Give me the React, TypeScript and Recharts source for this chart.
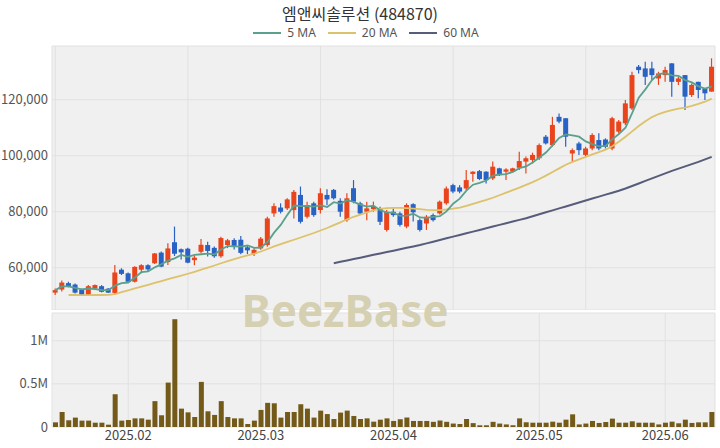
import { ComposedChart, Bar, Line, XAxis, YAxis, CartesianGrid } from 'recharts';

// trading days shown on the chart
const dates = [
  '2025-01-13', '2025-01-14', '2025-01-15', '2025-01-16', '2025-01-17', '2025-01-20', '2025-01-21', '2025-01-22', '2025-01-23', '2025-01-24', '2025-01-31',
  '2025-02-03', '2025-02-04', '2025-02-05', '2025-02-06', '2025-02-07', '2025-02-10', '2025-02-11', '2025-02-12', '2025-02-13', '2025-02-14',
  '2025-02-17', '2025-02-18', '2025-02-19', '2025-02-20', '2025-02-21', '2025-02-24', '2025-02-25', '2025-02-26', '2025-02-27', '2025-02-28',
  '2025-03-04', '2025-03-05', '2025-03-06', '2025-03-07', '2025-03-10', '2025-03-11', '2025-03-12', '2025-03-13', '2025-03-14', '2025-03-17',
  '2025-03-18', '2025-03-19', '2025-03-20', '2025-03-21', '2025-03-24', '2025-03-25', '2025-03-26', '2025-03-27', '2025-03-28', '2025-03-31',
  '2025-04-01', '2025-04-02', '2025-04-03', '2025-04-04', '2025-04-07', '2025-04-08', '2025-04-09', '2025-04-10', '2025-04-11', '2025-04-14',
  '2025-04-15', '2025-04-16', '2025-04-17', '2025-04-18', '2025-04-21', '2025-04-22', '2025-04-23', '2025-04-24', '2025-04-25', '2025-04-28',
  '2025-04-29', '2025-04-30',
  '2025-05-02', '2025-05-07', '2025-05-08', '2025-05-09', '2025-05-12', '2025-05-13', '2025-05-14', '2025-05-15', '2025-05-16', '2025-05-19',
  '2025-05-20', '2025-05-21', '2025-05-22', '2025-05-23', '2025-05-26', '2025-05-27', '2025-05-28', '2025-05-29', '2025-05-30',
  '2025-06-02', '2025-06-04', '2025-06-05', '2025-06-09', '2025-06-10', '2025-06-11', '2025-06-12', '2025-06-13',
];

const opens = [
  51100, 52200, 54500, 54000, 52200, 50300, 52600, 53400, 52500, 51000,
  59300, 58000, 55000, 59300, 60900, 61600, 65400, 62000, 69100, 66600,
  66800, 62700, 65700, 68100, 67100, 64100, 68100, 69900, 70000, 67300,
  64900, 66900, 68100, 79400, 81500, 81200, 80600, 86000, 78200, 83000,
  80600, 86000, 87800, 83900, 77000, 88400, 83000, 80000, 80900, 81200,
  73500, 80000, 79400, 74700, 82700, 77000, 75800, 78800, 79400, 83000,
  89500, 88700, 88300, 93500, 94500, 94300, 91900, 95500, 94300, 94300,
  95700, 97900, 98500, 99100, 106800, 103800, 113900, 113400, 100800, 104400,
  100300, 102600, 105600, 105800, 102600, 108600, 111600, 116900, 131800, 131200,
  131200, 127600, 128800, 133000, 126400, 128800, 121700, 126400, 124100, 122900,
];

const highs = [
  52600, 55400, 55000, 54400, 52600, 53800, 54000, 53800, 52800, 61000,
  59800, 58300, 60500, 61200, 61200, 65300, 65800, 68700, 74700, 66900,
  67100, 64400, 70300, 69300, 67600, 71100, 70300, 70500, 71300, 68000,
  67000, 71000, 78200, 83000, 83000, 84800, 87800, 89000, 83600, 83600,
  88400, 88000, 88100, 84800, 86600, 91300, 83600, 83600, 83600, 81800,
  80600, 81200, 80000, 83000, 83000, 77600, 78800, 79400, 84000, 89000,
  90000, 89500, 94900, 94500, 94900, 94500, 97900, 95700, 95500, 95700,
  101400, 99700, 101100, 104400, 107400, 113900, 115100, 113400, 102600, 105000,
  103200, 108000, 108000, 106200, 113900, 112800, 119900, 130000, 132400, 133600,
  133600, 130000, 131800, 133000, 128200, 128800, 125800, 126400, 124100, 134800,
];

const lows = [
  50300, 51500, 53000, 50800, 50000, 50000, 52300, 51200, 51000, 50400,
  57400, 54500, 54700, 58000, 58700, 61300, 60200, 61000, 64200, 62900,
  61600, 60900, 65200, 64000, 63600, 63600, 67000, 66500, 64800, 64900,
  64200, 66400, 67500, 78200, 79400, 80600, 77600, 75800, 77600, 78200,
  79400, 82400, 84400, 78200, 76400, 83000, 78800, 77000, 80000, 75300,
  72900, 78200, 74700, 74100, 76500, 72900, 73500, 76500, 79000, 82500,
  86600, 86600, 87800, 90700, 91300, 90100, 91300, 92800, 91300, 94000,
  94900, 93700, 97300, 98500, 104000, 103200, 111600, 103200, 97900, 100300,
  99700, 102000, 102000, 102600, 102000, 108000, 111000, 116300, 129400, 125300,
  127000, 125300, 126400, 121100, 125300, 116300, 121000, 120500, 119900, 122900,
];

const closes = [
  52000, 54700, 53400, 51100, 50300, 53400, 53800, 51400, 51100, 58300,
  57800, 55000, 60300, 60900, 59400, 65100, 60400, 66900, 65000, 65500,
  61800, 63600, 68200, 66000, 64100, 70600, 69800, 67800, 65300, 66200,
  66400, 70400, 77600, 82000, 80000, 84400, 87100, 76400, 82400, 78800,
  86600, 84400, 84800, 80000, 84800, 83600, 79400, 81200, 82000, 76400,
  80000, 78800, 75300, 82400, 79800, 73500, 78200, 77000, 83600, 88300,
  87200, 87200, 91300, 94300, 91700, 91300, 96100, 93100, 95100, 95500,
  98100, 99100, 100300, 103800, 104400, 111000, 112200, 106800, 102000, 102000,
  102600, 107400, 102600, 103200, 113400, 112200, 118700, 128800, 130600, 128200,
  128800, 129400, 130600, 126400, 127600, 121100, 125300, 123500, 122300, 131800,
];

const volumes = [
  54000, 174000, 78000, 109000, 74000, 74000, 50000, 50000, 27000, 380000,
  74000, 81000, 100000, 100000, 85000, 300000, 136000, 515000, 1250000, 213000,
  170000, 116000, 523000, 182000, 140000, 300000, 116000, 100000, 100000, 35000,
  74000, 198000, 280000, 275000, 109000, 174000, 174000, 264000, 213000, 109000,
  190000, 150000, 93000, 167000, 190000, 128000, 93000, 100000, 62000, 85000,
  100000, 70000, 90000, 110000, 70000, 70000, 70000, 60000, 75000, 60000,
  40000, 35000, 93000, 45000, 20000, 20000, 60000, 40000, 30000, 20000,
  100000, 55000, 50000, 50000, 50000, 62000, 50000, 85000, 147000, 30000,
  40000, 70000, 47000, 58000, 97000, 50000, 50000, 66000, 50000, 50000,
  50000, 30000, 50000, 62000, 43000, 85000, 47000, 54000, 54000, 174000,
];

// 20-day average as drawn (starts on the 3rd day shown)
const ma20 = [
  null, null, 50250, 50250, 50200, 50200, 50250, 50250, 50300, 50600,
  51250, 51900, 52600, 53250, 53900, 54550, 55200, 55900, 56550, 57200,
  57850, 58550, 59300, 60050, 60800, 61600, 62350, 63100, 63800, 64400,
  65000, 65800, 66700, 67600, 68400, 69200, 70000, 70800, 71600, 72400,
  73300, 74200, 75200, 76200, 77300, 78200, 79000, 79800, 80500, 81000,
  81300, 81400, 81400, 81300, 81100, 80900, 80700, 80600, 80600, 80800,
  81100, 81500, 82100, 82800, 83500, 84200, 85000, 85900, 86800, 87700,
  88600, 89600, 90600, 91700, 92900, 94200, 95500, 96800, 97800, 98700,
  99600, 100500, 101300, 102200, 103400, 105000, 106800, 108700, 110600, 112300,
  113800, 114900, 115700, 116300, 116800, 117200, 117800, 118500, 119300, 120400,
];

// 60-day average as drawn, from day index 42 on
const ma60Start = 42;
const ma60Values = [
  61600, 62100, 62600, 63100, 63600, 64100, 64600, 65100, 65600, 66100,
  66600, 67100, 67600, 68100, 68700, 69300, 69900, 70500, 71100, 71700,
  72300, 72900, 73500, 74100, 74700, 75300, 75900, 76500, 77100, 77700,
  78400, 79100, 79800, 80500, 81200, 81900, 82600, 83300, 84000, 84700,
  85400, 86100, 86800, 87500, 88300, 89200, 90100, 91000, 91900, 92800,
  93700, 94600, 95400, 96200, 97000, 97800, 98700, 99600,
];

const priceTicks = [60000, 80000, 100000, 120000];
const volumeTicks = [0, 500000, 1000000];
const monthTicks = ['2025-02-03', '2025-03-04', '2025-04-01', '2025-05-02', '2025-06-02'];
const priceGridDates = ['2025-01-13', '2025-02-14', '2025-03-17', '2025-04-14', '2025-05-15'];

const UP = '#e9441b';
const DOWN = '#2862c4';
const VOL = '#735a19';
const PLOT_BG = '#f0f0f0';
const GRID = '#e1e1e1';
const FONT = '"Noto Sans CJK KR", "Noto Sans", sans-serif';

const legendItems = [
  { name: '5 MA', color: '#5aa08d' },
  { name: '20 MA', color: '#dcc26a' },
  { name: '60 MA', color: '#575c7a' },
];

const data = dates.map((date, i) => {
  const win = closes.slice(Math.max(0, i - 4), i + 1);
  return {
    date,
    open: opens[i],
    high: highs[i],
    low: lows[i],
    close: closes[i],
    volume: volumes[i],
    ma5: win.reduce((a, b) => a + b, 0) / win.length,
    ma20: ma20[i],
    ma60: i >= ma60Start ? ma60Values[i - ma60Start] : null,
  };
});

function Candle(props: any) {
  const { x, y, width, height, payload } = props;
  if (!payload || x == null || y == null) return null;
  const { open, close, high, low } = payload;
  const top = Math.min(y, y + height);
  const h = Math.abs(height);
  const ratio = h / (high - low || 1);
  const yOpen = top + (high - open) * ratio;
  const yClose = top + (high - close) * ratio;
  const cx = x + width / 2;
  const color = close >= open ? UP : DOWN;
  const bodyTop = Math.min(yOpen, yClose);
  const bodyH = Math.max(Math.abs(yOpen - yClose), 1.2);
  return (
    <g>
      <line x1={cx} x2={cx} y1={top} y2={top + h} stroke={color} strokeWidth={1.2} />
      <rect x={cx - 2.5} y={bodyTop} width={5} height={bodyH} fill={color} />
    </g>
  );
}

const tickStyle = { fill: '#555', fontSize: 13, fontFamily: FONT };

export default function App() {
  return (
    <div
      style={{
        position: 'fixed',
        left: 0,
        top: 0,
        width: 720,
        height: 448,
        background: '#fff',
        fontFamily: FONT,
        overflow: 'hidden',
      }}
    >
      <div
        style={{
          position: 'absolute',
          top: 3,
          width: 720,
          textAlign: 'center',
          fontSize: 16,
          color: '#333',
          lineHeight: '20px',
        }}
      >
        엠앤씨솔루션 (484870)
      </div>
      <div
        style={{
          position: 'absolute',
          top: 26,
          width: 720,
          display: 'flex',
          justifyContent: 'center',
          gap: 12,
          fontSize: 12,
          fontFamily: '"Noto Sans", sans-serif',
          color: '#555',
          lineHeight: '14px',
          paddingLeft: 6,
        }}
      >
        {legendItems.map((item) => (
          <div key={item.name} style={{ display: 'flex', alignItems: 'center', gap: 6 }}>
            <div style={{ width: 28, height: 2, background: item.color }} />
            <span>{item.name}</span>
          </div>
        ))}
      </div>

      {/* price panel */}
      <div style={{ position: 'absolute', left: 0, top: 0 }}>
        <ComposedChart
          width={720}
          height={310}
          data={data}
          margin={{ top: 46, right: 5, bottom: 0, left: 0 }}
        >
          <CartesianGrid fill={PLOT_BG} fillOpacity={1} stroke={GRID} />
          <XAxis dataKey="date" ticks={priceGridDates} hide />
          <YAxis
            domain={[44900, 139200]}
            ticks={priceTicks}
            width={52}
            axisLine={false}
            tickLine={false}
            tickSize={0}
            tickMargin={4}
            tick={tickStyle}
            tickFormatter={(v: number) => v.toLocaleString('en-US')}
          />
          <Bar
            dataKey={(d: any) => [d.low, d.high]}
            shape={(p: any) => <Candle {...p} />}
            isAnimationActive={false}
          />
          <Line dataKey="ma60" stroke="#575c7a" strokeWidth={2} dot={false} isAnimationActive={false} />
          <Line dataKey="ma20" stroke="#dcc26a" strokeWidth={1.8} dot={false} isAnimationActive={false} />
          <Line dataKey="ma5" stroke="#5aa08d" strokeWidth={1.8} dot={false} isAnimationActive={false} />
        </ComposedChart>
      </div>

      {/* volume panel */}
      <div style={{ position: 'absolute', left: 0, top: 310 }}>
        <ComposedChart
          width={720}
          height={138}
          data={data}
          margin={{ top: 3, right: 5, bottom: 0, left: 0 }}
          barCategoryGap="15%"
        >
          <CartesianGrid fill={PLOT_BG} fillOpacity={1} stroke={GRID} />
          <XAxis
            dataKey="date"
            ticks={monthTicks}
            interval={0}
            height={21}
            axisLine={false}
            tickLine={false}
            tickSize={0}
            tickMargin={4}
            tick={{ ...tickStyle, fill: '#444' }}
            tickFormatter={(d: string) => d.slice(0, 7).replace('-', '.')}
          />
          <YAxis
            domain={[0, 1322000]}
            ticks={volumeTicks}
            width={52}
            axisLine={false}
            tickLine={false}
            tickSize={0}
            tickMargin={4}
            tick={tickStyle}
            tickFormatter={(v: number) => (v === 0 ? '0' : `${v / 1000000}M`)}
          />
          <Bar dataKey="volume" fill={VOL} isAnimationActive={false} />
        </ComposedChart>
      </div>

      <svg
        width={720}
        height={448}
        style={{ position: 'absolute', left: 0, top: 0, pointerEvents: 'none' }}
      >
        <text
          x={345}
          y={327}
          textAnchor="middle"
          fontSize={44}
          fontWeight={700}
          fontFamily='"Noto Sans", sans-serif'
          fill="#d6d0b2"
        >
          BeezBase
        </text>
      </svg>
    </div>
  );
}
